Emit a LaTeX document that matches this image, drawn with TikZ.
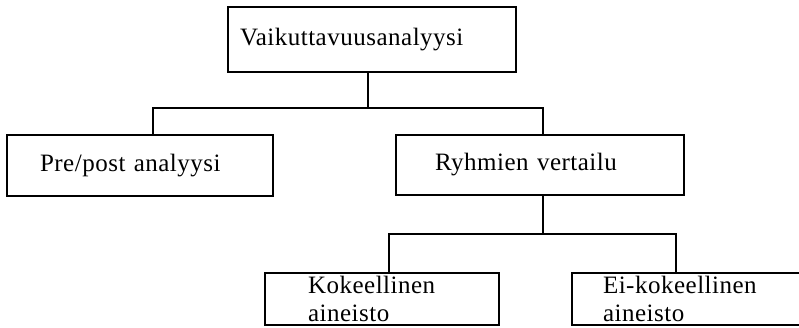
\documentclass[tikz,border=0pt]{standalone}
\usepackage{fontspec}
\setmainfont{Liberation Serif}[LetterSpace=2]
\tikzset{>=latex}
\tikzset{
	box/.style={draw, line width=1.5pt, align=left, inner ysep=1pt, font=\fontsize{25}{28}\selectfont},
	link/.style={line width=1.5pt}
}

\begin{document}
\begin{tikzpicture}[x=1pt, y=-1pt]
    \clip (0, 0) rectangle (799, 327);
    \node[box, text width=264pt, inner xsep=12pt, minimum height=65pt](top) at (372, 39.5){Vaikuttavuusanalyysi};
    \node[box, text width=200pt, inner xsep=33pt, minimum height=61pt](pre) at (140, 165.5){Pre/post analyysi};
    \node[box, text width=210pt, inner xsep=39pt, minimum height=60pt](ryhm) at (540, 165){Ryhmien vertailu};
    \node[box, text width=148pt, inner xsep=43pt, minimum height=52pt](kok) at (382, 299){Kokeellinen\\aineisto};
    \node[box, text width=172pt, inner xsep=31pt, minimum height=52pt](eikok) at (689, 299){Ei-kokeellinen\\aineisto};
    % first level
    \draw[link]([xshift=-4pt]top.south)--++(0, 35)coordinate(j1);
    \draw[link]([xshift=13pt]pre.north)|-(j1)-|([xshift=3pt]ryhm.north);
    % second level
    \draw[link]([xshift=3pt]ryhm.south)--++(0, 38)coordinate(j2);
    \draw[link]([xshift=7pt]kok.north)|-(j2)-|([xshift=-13pt]eikok.north);
\end{tikzpicture}
\end{document}
